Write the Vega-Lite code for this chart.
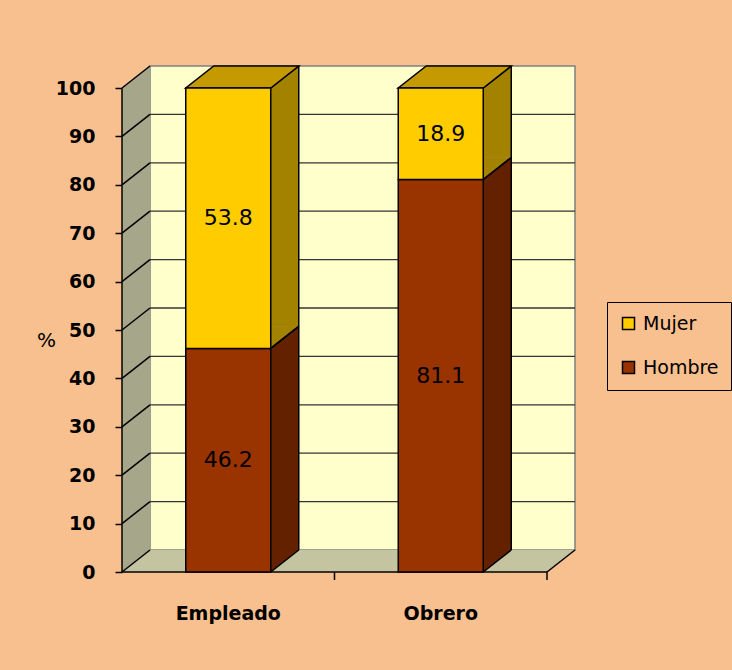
{
  "$schema": "https://vega.github.io/schema/vega-lite/v6.json",
  "width": 425,
  "height": 484,
  "autosize": {"type": "none"},
  "padding": {"left": 150, "top": 66, "right": 157, "bottom": 120},
  "background": "#F8BF8F",
  "config": {
    "font": "DejaVu Sans",
    "view": {"fill": "#FFFFCC", "stroke": "#808080", "strokeWidth": 1.5}
  },
  "datasets": {
    "bars": [
      {"cat": "Empleado", "sex": "Hombre", "value": 46.2},
      {"cat": "Empleado", "sex": "Mujer", "value": 53.8},
      {"cat": "Obrero", "sex": "Hombre", "value": 81.1},
      {"cat": "Obrero", "sex": "Mujer", "value": 18.9}
    ],
    "ticks": [
      {"v": 0}, {"v": 10}, {"v": 20}, {"v": 30}, {"v": 40}, {"v": 50},
      {"v": 60}, {"v": 70}, {"v": 80}, {"v": 90}, {"v": 100}
    ],
    "one": [{"k": 1}]
  },
  "layer": [
    {
      "data": {"name": "bars"},
      "transform": [{"stack": "value", "groupby": ["cat"], "sort": [{"field": "sex", "order": "ascending"}], "as": ["v0", "v1"]}],
      "mark": {"type": "bar", "width": 85, "opacity": 0},
      "encoding": {
        "x": {
          "field": "cat", "type": "nominal", "title": null,
          "scale": {"type": "band", "domain": ["Empleado", "Obrero"], "paddingInner": 0, "paddingOuter": 0},
          "axis": {"offset": 22, "labelOffset": -28, "domain": false, "ticks": false, "labelAngle": 0, "labelFontSize": 19, "labelFontWeight": "bold", "labelColor": "black", "labelPadding": 32}
        },
        "y": {
          "field": "v0", "type": "quantitative", "title": "%",
          "scale": {"domain": [0, 100], "nice": false},
          "axis": {"offset": 28, "tickOffset": 22, "domain": false, "values": [0, 10, 20, 30, 40, 50, 60, 70, 80, 90, 100], "grid": false, "tickColor": "black", "tickWidth": 1.5, "tickSize": 7, "labelFontSize": 19, "labelFontWeight": "bold", "labelColor": "black", "labelPadding": 20, "titleAngle": 0, "titleFontSize": 20, "titleFontWeight": "normal", "titleColor": "black", "titleX": -76, "titleY": 274, "titleAlign": "center", "titleBaseline": "middle"}
        },
        "y2": {"field": "v1"},
        "color": {
          "field": "sex", "type": "nominal",
          "scale": {"domain": ["Mujer", "Hombre"], "range": ["#FFCC00", "#993300"]},
          "legend": {"title": null, "orient": "none", "legendX": 457, "legendY": 236, "strokeColor": "black", "padding": 12, "symbolType": "square", "symbolSize": 144, "symbolStrokeColor": "black", "symbolStrokeWidth": 1.5, "symbolOffset": 0, "labelOffset": 5, "labelFontSize": 19, "labelColor": "black", "rowPadding": 24}
        }
      }
    },
    {
      "data": {"name": "ticks"},
      "transform": [{"filter": "datum.v > 0 && datum.v < 100"}],
      "mark": {"type": "rule", "color": "#333333", "strokeWidth": 1.3},
      "encoding": {
        "x": {"datum": "Empleado", "type": "nominal", "bandPosition": 0},
        "x2": {"datum": "Obrero", "bandPosition": 1},
        "y": {"field": "v", "type": "quantitative"}
      }
    },
    {
      "data": {"name": "one"},
      "mark": {"type": "point", "filled": true, "opacity": 1, "fill": "#A6A68A", "strokeWidth": 0, "size": 256036, "shape": "M -0.05534 -0.91304 L 0.05534 -1 L 0.05534 0.91304 L -0.05534 1 Z", "xOffset": -14, "yOffset": 11},
      "encoding": {
        "x": {"datum": "Empleado", "type": "nominal", "bandPosition": 0},
        "y": {"datum": 50, "type": "quantitative"}
      }
    },
    {
      "data": {"name": "one"},
      "mark": {"type": "point", "filled": true, "opacity": 1, "fill": "#C4C4A0", "strokeWidth": 0, "size": 205209, "shape": "M -1 0.04857 L 0.87638 0.04857 L 1 -0.04857 L -0.87638 -0.04857 Z", "xOffset": -14, "yOffset": 11},
      "encoding": {
        "x": {"datum": "Obrero", "type": "nominal", "bandPosition": 0},
        "y": {"datum": 0, "type": "quantitative"}
      }
    },
    {
      "data": {"name": "ticks"},
      "mark": {"type": "rule", "color": "black", "strokeWidth": 1.5, "xOffset": -28, "yOffset": 22},
      "encoding": {
        "x": {"datum": "Empleado", "type": "nominal", "bandPosition": 0},
        "x2": {"datum": "Empleado", "bandPosition": 0},
        "y": {"field": "v", "type": "quantitative"},
        "y2": {"field": "v"}
      }
    },
    {
      "data": {"name": "one"},
      "mark": {"type": "rule", "color": "black", "strokeWidth": 1.5, "xOffset": -28, "yOffset": 22},
      "encoding": {
        "x": {"datum": "Obrero", "type": "nominal", "bandPosition": 1},
        "x2": {"datum": "Obrero", "bandPosition": 1},
        "y": {"datum": 0, "type": "quantitative"},
        "y2": {"datum": 0}
      }
    },
    {
      "data": {"name": "one"},
      "mark": {"type": "rule", "color": "black", "strokeWidth": 1.5, "xOffset": -28, "x2Offset": -28, "yOffset": 22, "y2Offset": 22},
      "encoding": {
        "x": {"datum": "Empleado", "type": "nominal", "bandPosition": 0},
        "x2": {"datum": "Obrero", "bandPosition": 1},
        "y": {"datum": 0, "type": "quantitative"},
        "y2": {"datum": 0}
      }
    },
    {
      "data": {"name": "one"},
      "mark": {"type": "rule", "color": "black", "strokeWidth": 1.5, "xOffset": -28, "x2Offset": -28, "yOffset": 22, "y2Offset": 22},
      "encoding": {
        "x": {"datum": "Empleado", "type": "nominal", "bandPosition": 0},
        "x2": {"datum": "Empleado", "bandPosition": 0},
        "y": {"datum": 0, "type": "quantitative"},
        "y2": {"datum": 100}
      }
    },
    {
      "data": {"name": "bars"},
      "transform": [{"filter": "datum.sex == 'Mujer'"}],
      "mark": {"type": "rule", "color": "black", "strokeWidth": 1.5, "xOffset": -28, "yOffset": 22, "y2Offset": 30},
      "encoding": {
        "x": {"field": "cat", "type": "nominal", "bandPosition": 1},
        "y": {"datum": 0, "type": "quantitative"},
        "y2": {"datum": 0}
      }
    },
    {
      "data": {"name": "bars"},
      "transform": [{"stack": "value", "groupby": ["cat"], "sort": [{"field": "sex", "order": "ascending"}], "as": ["v0", "v1"]}],
      "mark": {"type": "bar", "width": 85, "strokeWidth": 0},
      "encoding": {
        "x": {"field": "cat", "type": "nominal"},
        "y": {"field": "v0", "type": "quantitative"},
        "y2": {"field": "v1"},
        "fill": {"field": "sex", "type": "nominal", "scale": {"domain": ["Mujer", "Hombre"], "range": ["#A38200", "#632100"]}, "legend": null}
      }
    },
    {
      "data": {"name": "bars"},
      "transform": [{"stack": "value", "groupby": ["cat"], "sort": [{"field": "sex", "order": "ascending"}], "as": ["v0", "v1"]}],
      "mark": {"type": "point", "filled": true, "opacity": 1, "strokeWidth": 0, "size": 784, "shape": "M -1 0.7857 L -1 -0.7857 L 1 -0.7857 Z", "xOffset": 28.5, "yOffset": 11},
      "encoding": {
        "x": {"field": "cat", "type": "nominal"},
        "y": {"field": "v0", "type": "quantitative"},
        "fill": {"field": "sex", "type": "nominal", "legend": null}
      }
    },
    {
      "data": {"name": "bars"},
      "transform": [{"stack": "value", "groupby": ["cat"], "sort": [{"field": "sex", "order": "ascending"}], "as": ["v0", "v1"]}],
      "mark": {"type": "rule", "color": "black", "strokeWidth": 1.5, "xOffset": 14.5, "x2Offset": 42.5, "yOffset": 22},
      "encoding": {
        "x": {"field": "cat", "type": "nominal"},
        "x2": {"field": "cat"},
        "y": {"field": "v0", "type": "quantitative"},
        "y2": {"field": "v0"}
      }
    },
    {
      "data": {"name": "bars"},
      "transform": [{"stack": "value", "groupby": ["cat"], "sort": [{"field": "sex", "order": "ascending"}], "as": ["v0", "v1"]}],
      "mark": {"type": "rule", "color": "black", "strokeWidth": 1.5, "xOffset": 14.5, "x2Offset": 42.5, "yOffset": 22},
      "encoding": {
        "x": {"field": "cat", "type": "nominal"},
        "x2": {"field": "cat"},
        "y": {"field": "v1", "type": "quantitative"},
        "y2": {"field": "v1"}
      }
    },
    {
      "data": {"name": "bars"},
      "transform": [{"filter": "datum.sex == 'Mujer'"}],
      "mark": {"type": "rule", "color": "black", "strokeWidth": 1.5, "xOffset": 42.5, "x2Offset": 42.5},
      "encoding": {
        "x": {"field": "cat", "type": "nominal"},
        "y": {"datum": 0, "type": "quantitative"},
        "y2": {"datum": 100}
      }
    },
    {
      "data": {"name": "bars"},
      "transform": [{"filter": "datum.sex == 'Mujer'"}],
      "mark": {"type": "point", "filled": true, "opacity": 1, "fill": "#C49A00", "stroke": "black", "strokeWidth": 1.5, "size": 12769, "shape": "M -1 0.1947 L 0.5044 0.1947 L 1 -0.1947 L -0.5044 -0.1947 Z", "xOffset": -14, "yOffset": 11},
      "encoding": {
        "x": {"field": "cat", "type": "nominal"},
        "y": {"datum": 100, "type": "quantitative"}
      }
    },
    {
      "data": {"name": "bars"},
      "transform": [{"stack": "value", "groupby": ["cat"], "sort": [{"field": "sex", "order": "ascending"}], "as": ["v0", "v1"]}],
      "mark": {"type": "bar", "width": 85, "stroke": "black", "strokeWidth": 1.5, "xOffset": -28, "yOffset": 22, "y2Offset": 22},
      "encoding": {
        "x": {"field": "cat", "type": "nominal"},
        "y": {"field": "v0", "type": "quantitative"},
        "y2": {"field": "v1"},
        "color": {"field": "sex", "type": "nominal", "legend": null}
      }
    },
    {
      "data": {"name": "bars"},
      "transform": [
        {"stack": "value", "groupby": ["cat"], "sort": [{"field": "sex", "order": "ascending"}], "as": ["v0", "v1"]},
        {"calculate": "(datum.v0 + datum.v1) / 2", "as": "mid"}
      ],
      "mark": {"type": "text", "fontSize": 22, "color": "black", "xOffset": -28, "yOffset": 22},
      "encoding": {
        "x": {"field": "cat", "type": "nominal"},
        "y": {"field": "mid", "type": "quantitative"},
        "text": {"field": "value", "type": "quantitative", "format": ".1f"}
      }
    }
  ]
}
